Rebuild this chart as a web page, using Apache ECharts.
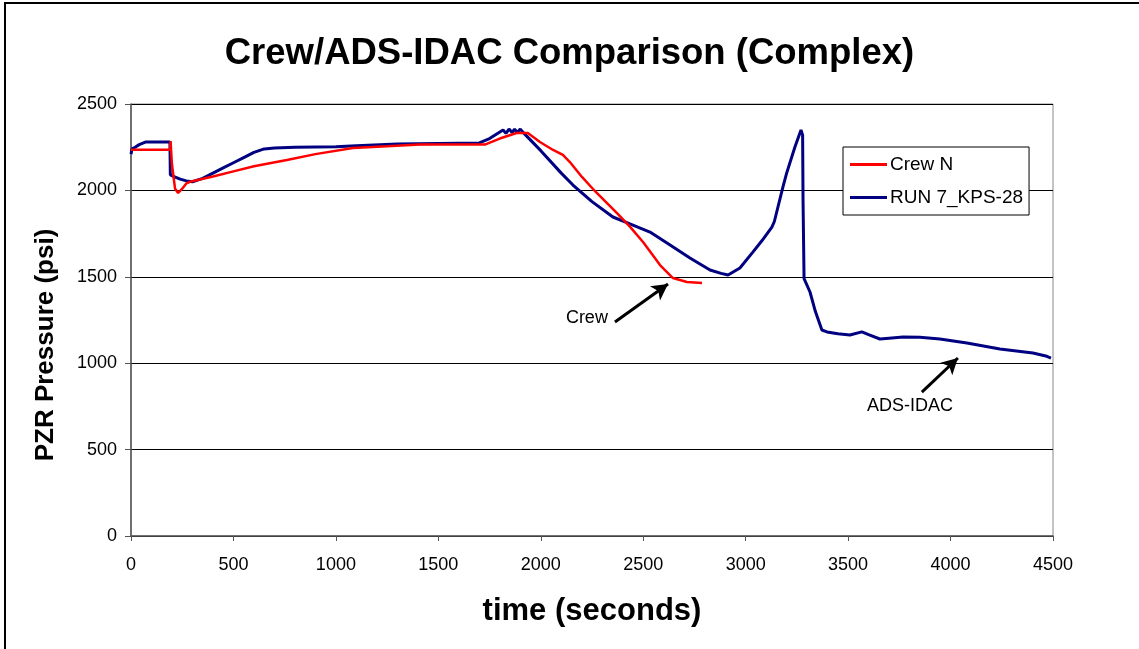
<!DOCTYPE html>
<html><head><meta charset="utf-8">
<script src="https://cdn.jsdelivr.net/npm/echarts@6/dist/echarts.min.js"></script>
<style>html,body{margin:0;padding:0;background:#fff}#c{width:1139px;height:649px}</style>
</head><body><div id="c"></div>
<script>
const titleText = 'Crew/ADS-IDAC Comparison (Complex)';
const xName = 'time (seconds)';
const yName = 'PZR Pressure (psi)';
const seriesNames = ['Crew N', 'RUN 7_KPS-28'];
const crewN = [[0,2235],[190,2235],[193,2285],[200,2150],[215,2010],[230,1985],[250,2010],[270,2040],[288,2050],[400,2080],[500,2110],[600,2140],[761,2176],[900,2210],[1083,2245],[1250,2255],[1410,2265],[1600,2265],[1727,2265],[1800,2300],[1882,2332],[1937,2332],[1996,2280],[2060,2234],[2108,2205],[2142,2164],[2201,2078],[2255,2008],[2372,1869],[2435,1790],[2500,1700],[2582,1568],[2645,1493],[2713,1470],[2787,1464]];
const run7 = [[0,2210],[5,2240],[20,2250],[40,2265],[70,2280],[190,2280],[192,2090],[210,2080],[240,2065],[270,2055],[300,2050],[350,2070],[400,2100],[450,2130],[500,2160],[550,2190],[600,2220],[650,2240],[700,2245],[800,2250],[1000,2252],[1100,2258],[1300,2268],[1500,2272],[1700,2275],[1750,2300],[1816,2350],[1830,2330],[1845,2355],[1860,2335],[1872,2355],[1885,2335],[1900,2355],[1910,2340],[2000,2230],[2100,2100],[2157,2031],[2250,1935],[2352,1846],[2435,1806],[2533,1759],[2631,1684],[2728,1609],[2826,1539],[2880,1520],[2914,1510],[2972,1551],[3036,1644],[3080,1710],[3128,1788],[3140,1820],[3182,2020],[3200,2100],[3206,2106],[3240,2250],[3270,2350],[3278,2320],[3280,1944],[3285,1490],[3314,1412],[3340,1300],[3372,1192],[3397,1181],[3450,1170],[3509,1163],[3567,1181],[3600,1165],[3655,1140],[3700,1145],[3768,1152],[3850,1150],[3948,1140],[4080,1117],[4241,1082],[4402,1059],[4470,1040],[4490,1030]];
const annotations = [
  {text:'Crew', at:[2225,1262], from:[2362,1238], to:[2621,1458]},
  {text:'ADS-IDAC', at:[3802,752], from:[3860,833], to:[4036,1030]}
];
const FONT = '"Liberation Sans", Arial, sans-serif';
function annot(a){
  return {
    markLine:{silent:true, symbol:['none','arrow'], symbolSize:[13,16], label:{show:false},
      lineStyle:{color:'#000', width:3, type:'solid'},
      data:[[{coord:a.from},{coord:a.to}]]},
    markPoint:{silent:true, symbol:'circle', symbolSize:0,
      label:{show:true, position:'inside', formatter:a.text, color:'#000', fontSize:18, fontFamily:FONT},
      data:[{coord:a.at}]}
  };
}
const chart = echarts.init(document.getElementById('c'));
chart.setOption({
  animation:false,
  backgroundColor:'#fff',
  graphic:[{type:'rect', shape:{x:5,y:3,width:1300,height:800}, style:{fill:'none', stroke:'#000', lineWidth:2}, z:-1}],
  title:{text:titleText, left:'center', top:30, textStyle:{fontSize:36.5, fontWeight:'bold', color:'#000', fontFamily:FONT}},
  grid:{left:131, right:86, top:104, bottom:113, show:true, borderColor:'#888', borderWidth:1},
  legend:{orient:'vertical', left:843, top:147, padding:[8,6,8,7], itemGap:14, itemWidth:37, itemHeight:3, icon:'rect',
    backgroundColor:'#fff', borderColor:'#000', borderWidth:1,
    textStyle:{fontSize:19, color:'#000', fontFamily:FONT, padding:[0,0,0,-2]},
    data:seriesNames},
  xAxis:{type:'value', min:0, max:4500, interval:500, name:xName, nameLocation:'middle', nameGap:60,
    nameTextStyle:{fontSize:31, fontWeight:'bold', color:'#000', fontFamily:FONT},
    axisLine:{lineStyle:{color:'#555', width:1.5}}, axisTick:{inside:false, length:5, lineStyle:{color:'#555'}},
    axisLabel:{fontSize:18, color:'#000', margin:20, fontFamily:FONT, formatter:v=>String(v)}, splitLine:{show:false}},
  yAxis:{type:'value', min:0, max:2500, interval:500, name:yName, nameLocation:'middle', nameGap:72,
    nameTextStyle:{fontSize:26, fontWeight:'bold', color:'#000', fontFamily:FONT, padding:[0,50,0,0]},
    axisLine:{show:true, lineStyle:{color:'#555', width:1.5}}, axisTick:{show:true, length:6, lineStyle:{color:'#555'}},
    axisLabel:{fontSize:18, color:'#000', margin:14, fontFamily:FONT, formatter:v=>String(v)},
    splitLine:{show:true, lineStyle:{color:'#000', width:1}}},
  series:[
    Object.assign({name:seriesNames[0], type:'line', data:crewN, symbol:'none', color:'#ff0000',
      lineStyle:{color:'#ff0000', width:2.5}, z:3}, annot(annotations[0])),
    Object.assign({name:seriesNames[1], type:'line', data:run7, symbol:'none', color:'#000080',
      lineStyle:{color:'#000080', width:3}, z:2}, annot(annotations[1]))
  ]
});
</script></body></html>
